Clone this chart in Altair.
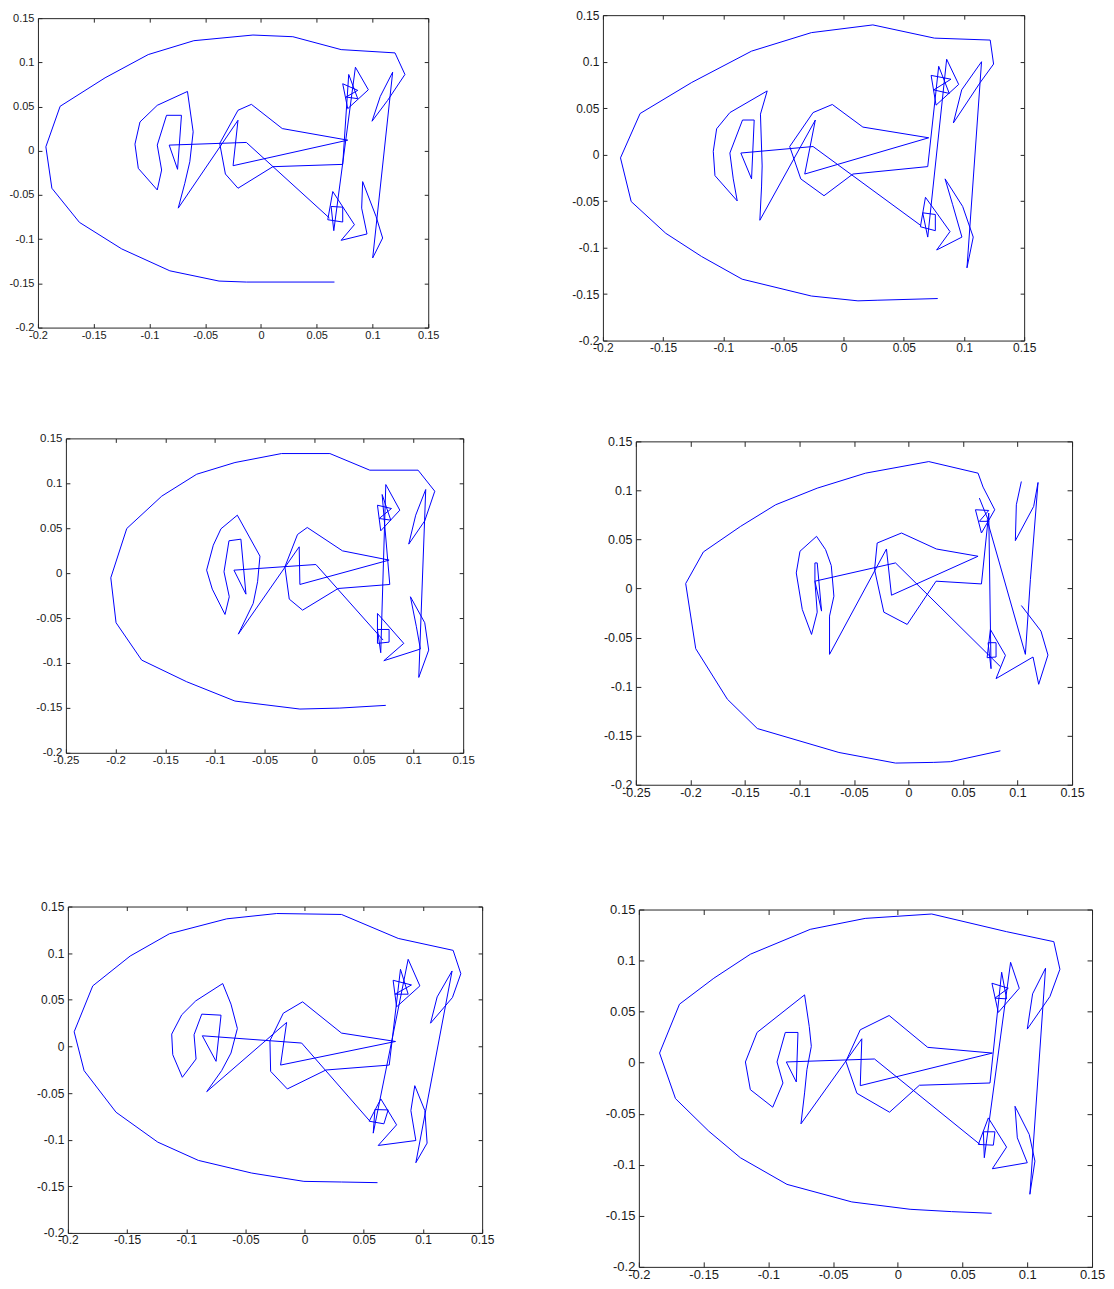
import altair as alt
import pandas as pd

# ---------------- data ----------------
p1_x = [0.0659,-0.0131,-0.0376,-0.0817,-0.1249,-0.1628,-0.1875,-0.1929,-0.1801,-0.1398,-0.1011,-0.0602,-0.0072,0.0286,0.0719,0.1202,0.1291,
        0.1136,0.0996,0.1070,0.1181,0.1002,0.1091,0.1032,0.0912,0.0903,0.0951,0.0719,
        0.0838,0.0644,0.0599,0.0733,0.0733,0.0629,0.0653,
        0.0847,0.0963,0.0778,0.0733,0.0868,0.0763,0.0868,0.0787,0.0733,
        0.0107,-0.0206,-0.0319,-0.0370,-0.0206,-0.0086,0.0191,0.0778,-0.0250,-0.0206,
        -0.0742,-0.0683,-0.0638,-0.0608,-0.0659,-0.0930,-0.1085,-0.1130,-0.1100,-0.0930,-0.0891,-0.0930,-0.0847,-0.0713,-0.0748,-0.0823,-0.0131,0.0614]
p1_y = [-0.1485,-0.1485,-0.1474,-0.1358,-0.1110,-0.0810,-0.0424,0.0045,0.0503,0.0825,0.1088,0.1245,0.1309,0.1290,0.1144,0.1107,0.0863,
        0.0570,0.0334,0.0615,0.0889,-0.1212,-0.0987,-0.0743,-0.0349,-0.0649,-0.0941,-0.1013,
        -0.0836,-0.0461,-0.0780,-0.0806,-0.0638,-0.0630,-0.0904,
        0.0945,0.0690,0.0476,0.0758,0.0683,0.0608,0.0589,0.0863,-0.0154,
        -0.0180,-0.0424,-0.0263,0.0083,0.0458,0.0525,0.0251,0.0120,-0.0169,0.0345,
        -0.0649,-0.0368,-0.0124,0.0214,0.0671,0.0514,0.0326,0.0075,-0.0199,-0.0443,-0.0218,0.0064,0.0401,0.0401,-0.0210,0.0064,0.0094,-0.0761]

p2_x = [0.0782,0.0285,0.0119,-0.0268,-0.0843,-0.1180,-0.1478,-0.1765,-0.1854,-0.1691,-0.1262,-0.0765,-0.0268,0.0243,0.0754,0.1218,0.1246,
        0.1135,0.0912,0.0981,0.1146,0.1025,0.1077,0.0989,0.0843,0.0906,0.0983,0.0773,
        0.0884,0.0680,0.0638,0.0762,0.0762,0.0657,0.0699,
        0.0856,0.0956,0.0768,0.0727,0.0892,0.0749,0.0878,0.0790,0.0699,
        0.0077,-0.0163,-0.0356,-0.0448,-0.0254,-0.0094,0.0160,0.0707,-0.0323,-0.0235,
        -0.0696,-0.0682,-0.0677,-0.0691,-0.0635,-0.0945,-0.1055,-0.1083,-0.1069,-0.0884,-0.0917,-0.0945,-0.0840,-0.0743,-0.0765,-0.0854,-0.0254,0.0644]
p2_y = [-0.1548,-0.1566,-0.1573,-0.1521,-0.1340,-0.1096,-0.0846,-0.0505,-0.0035,0.0442,0.0776,0.1113,0.1312,0.1395,0.1253,0.1232,0.0974,
        0.0776,0.0341,0.0696,0.0999,-0.1218,-0.0887,-0.0557,-0.0261,-0.0539,-0.0887,-0.1026,
        -0.0828,-0.0459,-0.0776,-0.0818,-0.0644,-0.0626,-0.0887,
        0.1026,0.0755,0.0532,0.0852,0.0811,0.0696,0.0658,0.0950,-0.0129,
        -0.0209,-0.0442,-0.0261,0.0087,0.0452,0.0539,0.0296,0.0181,-0.0209,0.0372,
        -0.0706,-0.0348,-0.0122,0.0435,0.0685,0.0452,0.0278,0.0035,-0.0226,-0.0498,-0.0261,0.0017,0.0372,0.0372,-0.0261,0.0017,0.0087,-0.0765]

p3_x = [0.0721,0.0258,-0.0144,-0.0798,-0.1284,-0.1737,-0.1995,-0.2048,-0.1887,-0.1535,-0.1183,-0.0798,-0.0329,0.0158,0.0560,0.1046,0.1214,
        0.1113,0.0952,0.1022,0.1123,0.1053,0.1153,0.1113,0.0969,0.1029,0.1069,0.0701,
        0.0902,0.0637,0.0637,0.0754,0.0754,0.0637,0.0670,
        0.0721,0.0862,0.0670,0.0637,0.0778,0.0654,0.0771,0.0684,0.0761,
        0.0241,-0.0117,-0.0251,-0.0295,-0.0168,-0.0070,0.0285,0.0754,-0.0144,-0.0151,
        -0.0764,-0.0614,-0.0570,-0.0546,-0.0774,-0.0939,-0.1016,-0.1083,-0.1026,-0.0898,-0.0855,-0.0908,-0.0858,-0.0738,-0.0687,-0.0808,0.0017,0.0694]
p3_y = [-0.1472,-0.1502,-0.1513,-0.1424,-0.1209,-0.0968,-0.0552,-0.0052,0.0497,0.0857,0.1101,0.1231,0.1331,0.1331,0.1146,0.1146,0.0912,
        0.0582,0.0323,0.0645,0.0931,-0.1161,-0.0857,-0.0552,-0.0263,-0.0597,-0.0845,-0.0975,
        -0.0782,-0.0449,-0.0782,-0.0768,-0.0627,-0.0627,-0.0886,
        0.0986,0.0701,0.0471,0.0756,0.0719,0.0608,0.0590,0.0875,-0.0126,
        -0.0171,-0.0412,-0.0289,0.0070,0.0430,0.0508,0.0248,0.0145,-0.0126,0.0293,
        -0.0679,-0.0337,-0.0096,0.0189,0.0645,0.0493,0.0311,0.0033,-0.0178,-0.0460,-0.0263,0.0015,0.0360,0.0378,-0.0234,0.0033,0.0096,-0.0745]

p4_x = [0.0843,0.0385,0.0232,-0.0119,-0.0638,-0.1386,-0.1661,-0.1951,-0.2043,-0.1881,-0.1539,-0.1218,-0.0837,-0.0394,0.0186,0.0638,
        0.0684,0.0791,0.0669,0.0614,0.0736,0.0650,0.0736,0.0650,
        0.1035,0.0989,0.0980,0.1148,0.1188,0.1118,0.1072,0.0721,
        0.1035,0.1215,0.1279,0.1194,0.1142,0.0803,
        0.0889,0.0751,0.0721,0.0803,0.0803,0.0730,0.0757,0.0736,0.0669,
        0.0253,-0.0012,-0.0226,-0.0311,-0.0287,-0.0064,0.0256,0.0638,-0.0156,-0.0202,
        -0.0724,-0.0724,-0.0684,-0.0708,-0.0760,-0.0843,-0.0995,-0.1029,-0.0974,-0.0889,-0.0837,-0.0858,-0.0858,-0.0837,-0.0797,-0.0858,-0.0119,0.0843]
p4_y = [-0.1654,-0.1765,-0.1772,-0.1779,-0.1671,-0.1427,-0.1128,-0.0613,0.0051,0.0373,0.0634,0.0854,0.1023,0.1176,0.1294,0.1176,
        0.1034,0.0803,0.0566,0.0803,0.0796,0.0685,0.0685,0.0922,
        0.1091,0.0854,0.0488,0.0837,0.1081,0.0091,-0.0671,0.0701,
        -0.0173,-0.0434,-0.0678,-0.0976,-0.0698,-0.0918,
        -0.0681,-0.0417,-0.0705,-0.0698,-0.0552,-0.0552,-0.0817,0.0769,0.0047,
        0.0075,-0.0366,-0.0241,0.0193,0.0464,0.0566,0.0403,0.0329,-0.0068,0.0403,
        -0.0671,-0.0281,-0.0078,0.0234,0.0396,0.0532,0.0380,0.0159,-0.0213,-0.0468,-0.0241,0.0075,0.0261,0.0261,-0.0230,0.0075,0.0261,-0.0796]
p4_s = [0] * 24 + [1] * 8 + [2] * 43

p5_x = [0.0616,0.0312,-0.0006,-0.0447,-0.0898,-0.1241,-0.1593,-0.1863,-0.1947,-0.1790,-0.1474,-0.1142,-0.0658,-0.0236,0.0312,0.0791,0.1255,0.1320,
        0.1249,0.1064,0.1120,0.1246,0.0940,0.1035,0.1016,0.0931,0.0898,0.0940,0.0622,
        0.0777,0.0644,0.0546,0.0670,0.0706,0.0594,0.0580,
        0.0875,0.0974,0.0777,0.0748,0.0903,0.0763,0.0875,0.0810,0.0715,
        0.0180,-0.0146,-0.0287,-0.0293,-0.0180,-0.0017,0.0312,0.0768,-0.0203,-0.0152,
        -0.0827,-0.0701,-0.0622,-0.0568,-0.0622,-0.0692,-0.0920,-0.1038,-0.1123,-0.1114,-0.1033,-0.0917,-0.0934,-0.0869,-0.0706,-0.0748,-0.0864,-0.0025,0.0552]
p5_y = [-0.1461,-0.1454,-0.1447,-0.1358,-0.1222,-0.1026,-0.0706,-0.0260,0.0157,0.0649,0.0969,0.1208,0.1368,0.1425,0.1415,0.1158,0.1030,0.0780,
        0.0524,0.0249,0.0531,0.0809,-0.1247,-0.1037,-0.0688,-0.0421,-0.0688,-0.1009,-0.1062,
        -0.0841,-0.0563,-0.0802,-0.0830,-0.0681,-0.0677,-0.0930,
        0.0934,0.0649,0.0424,0.0709,0.0659,0.0560,0.0560,0.0827,-0.0200,
        -0.0253,-0.0456,-0.0267,0.0061,0.0356,0.0478,0.0143,0.0053,-0.0200,0.0257,
        -0.0485,-0.0260,-0.0071,0.0192,0.0453,0.0674,0.0488,0.0339,0.0132,-0.0089,-0.0331,-0.0135,0.0125,0.0346,0.0335,-0.0160,0.0114,0.0036,-0.0802]

p6_x = [0.0725,0.0416,0.0095,-0.0355,-0.0856,-0.1216,-0.1460,-0.1717,-0.1840,-0.1686,-0.1421,-0.1139,-0.0676,-0.0252,0.0262,0.0840,0.1205,0.1252,
        0.1175,0.1000,0.1041,0.1141,0.1020,0.1059,0.1015,0.0905,0.0923,0.1000,0.0730,
        0.0840,0.0699,0.0622,0.0738,0.0750,0.0661,0.0668,
        0.0871,0.0938,0.0776,0.0727,0.0853,0.0750,0.0840,0.0802,0.0712,
        0.0167,-0.0064,-0.0316,-0.0401,-0.0290,-0.0067,0.0231,0.0730,-0.0290,-0.0278,
        -0.0748,-0.0720,-0.0702,-0.0668,-0.0684,-0.0720,-0.1087,-0.1177,-0.1139,-0.0966,-0.0887,-0.0933,-0.0869,-0.0771,-0.0784,-0.0861,-0.0180,0.0635]
p6_y = [-0.1475,-0.1459,-0.1436,-0.1364,-0.1192,-0.0931,-0.0671,-0.0352,0.0094,0.0573,0.0827,0.1062,0.1306,0.1413,0.1456,0.1283,0.1185,0.0915,
        0.0648,0.0329,0.0674,0.0925,-0.1289,-0.0964,-0.0703,-0.0427,-0.0736,-0.0980,-0.1039,
        -0.0827,-0.0541,-0.0801,-0.0808,-0.0677,-0.0677,-0.0931,
        0.0983,0.0729,0.0492,0.0778,0.0729,0.0632,0.0625,0.0886,-0.0199,
        -0.0221,-0.0485,-0.0300,0.0013,0.0322,0.0462,0.0150,0.0094,-0.0225,0.0234,
        -0.0599,-0.0296,-0.0068,0.0160,0.0355,0.0664,0.0296,0.0007,-0.0264,-0.0436,-0.0199,0.0007,0.0296,0.0296,-0.0189,0.0007,0.0036,-0.0801]

X_TICKS_A = [-0.2, -0.15, -0.1, -0.05, 0, 0.05, 0.1, 0.15]
X_TICKS_B = [-0.25, -0.2, -0.15, -0.1, -0.05, 0, 0.05, 0.1, 0.15]
Y_TICKS = [-0.2, -0.15, -0.1, -0.05, 0, 0.05, 0.1, 0.15]

LABEL_EXPR = "datum.value < 0 ? '-' + format(-datum.value, '~g') : format(datum.value, '~g')"
AX_COLOR = "#262626"
LINE_COLOR = "#0000ff"

# overall drawing area (pixels) and each panel's box: left, top, width, height
TOTAL_W, TOTAL_H = 1100, 1278
BOXES = [
    (30, 9, 391, 310),
    (596, 6, 422, 326),
    (58, 430, 398, 315),
    (629, 433, 437, 344),
    (60, 899, 415, 327),
    (632, 902, 454, 358),
]
FONT_SIZES = [11, 12, 11.5, 12.5, 12, 13]
TICK_SIZES = [4, 4, 4, 5, 4, 5]


def ax(orient, values, labels, domain, ticks, offset, fs, tick, pad=3):
    kw = dict(orient=orient, values=values, grid=False, title=None,
              labels=labels, domain=domain, ticks=ticks,
              domainColor=AX_COLOR, domainWidth=1, tickColor=AX_COLOR, tickWidth=1,
              tickSize=tick if ticks else 0, labelOverlap=False, labelFlush=False,
              labelFont="Liberation Sans", labelFontSize=fs, labelColor="#1a1a1a",
              labelPadding=pad, offset=offset)
    if labels:
        kw["labelExpr"] = LABEL_EXPR
    return alt.Axis(**kw)


def panel_layers(xs, ys, strokes, xticks, box, fs, tick):
    L, T, W, H = box
    R, B = L + W, T + H
    if strokes is None:
        strokes = [0] * len(xs)
    df = pd.DataFrame({"x": xs, "y": ys, "k": strokes, "i": list(range(len(xs)))})
    xsc = alt.Scale(domain=[xticks[0], xticks[-1]], range=[L, R], nice=False, zero=False)
    ysc = alt.Scale(domain=[Y_TICKS[0], Y_TICKS[-1]], range=[B, T], nice=False, zero=False)
    base = alt.Chart(df)
    line = base.mark_line(color=LINE_COLOR, strokeWidth=1).encode(
        x=alt.X("x:Q", scale=xsc, axis=ax("bottom", xticks, True, True, False, B - TOTAL_H, fs, tick, pad=2)),
        y=alt.Y("y:Q", scale=ysc, axis=ax("left", Y_TICKS, True, True, False, -L, fs, tick, pad=4)),
        order="i:Q",
        detail="k:N",
    )
    # inward ticks on the bottom and left edges
    inner = base.mark_point(opacity=0).encode(
        x=alt.X("x:Q", scale=xsc, axis=ax("top", xticks, False, False, True, -B, fs, tick)),
        y=alt.Y("y:Q", scale=ysc, axis=ax("right", Y_TICKS, False, False, True, L - TOTAL_W, fs, tick)),
    )
    # top and right edges of the box, with inward ticks
    edge = base.mark_point(opacity=0).encode(
        x=alt.X("x:Q", scale=xsc, axis=ax("bottom", xticks, False, True, True, T - TOTAL_H, fs, tick)),
        y=alt.Y("y:Q", scale=ysc, axis=ax("left", Y_TICKS, False, True, True, -R, fs, tick)),
    )
    return [line, inner, edge]


panels = [
    (p1_x, p1_y, None, X_TICKS_A),
    (p2_x, p2_y, None, X_TICKS_A),
    (p3_x, p3_y, None, X_TICKS_B),
    (p4_x, p4_y, p4_s, X_TICKS_B),
    (p5_x, p5_y, None, X_TICKS_A),
    (p6_x, p6_y, None, X_TICKS_A),
]

layers = []
for (xs, ys, ss, xt), box, fs, tk in zip(panels, BOXES, FONT_SIZES, TICK_SIZES):
    layers += panel_layers(xs, ys, ss, xt, box, fs, tk)

chart = (alt.layer(*layers)
         .resolve_scale(x="independent", y="independent")
         .resolve_axis(x="independent", y="independent")
         .properties(width=TOTAL_W, height=TOTAL_H, padding=0, background="white")
         .configure_view(stroke=None))

chart.save("out.html", embed_options={"renderer": "svg", "actions": False})
